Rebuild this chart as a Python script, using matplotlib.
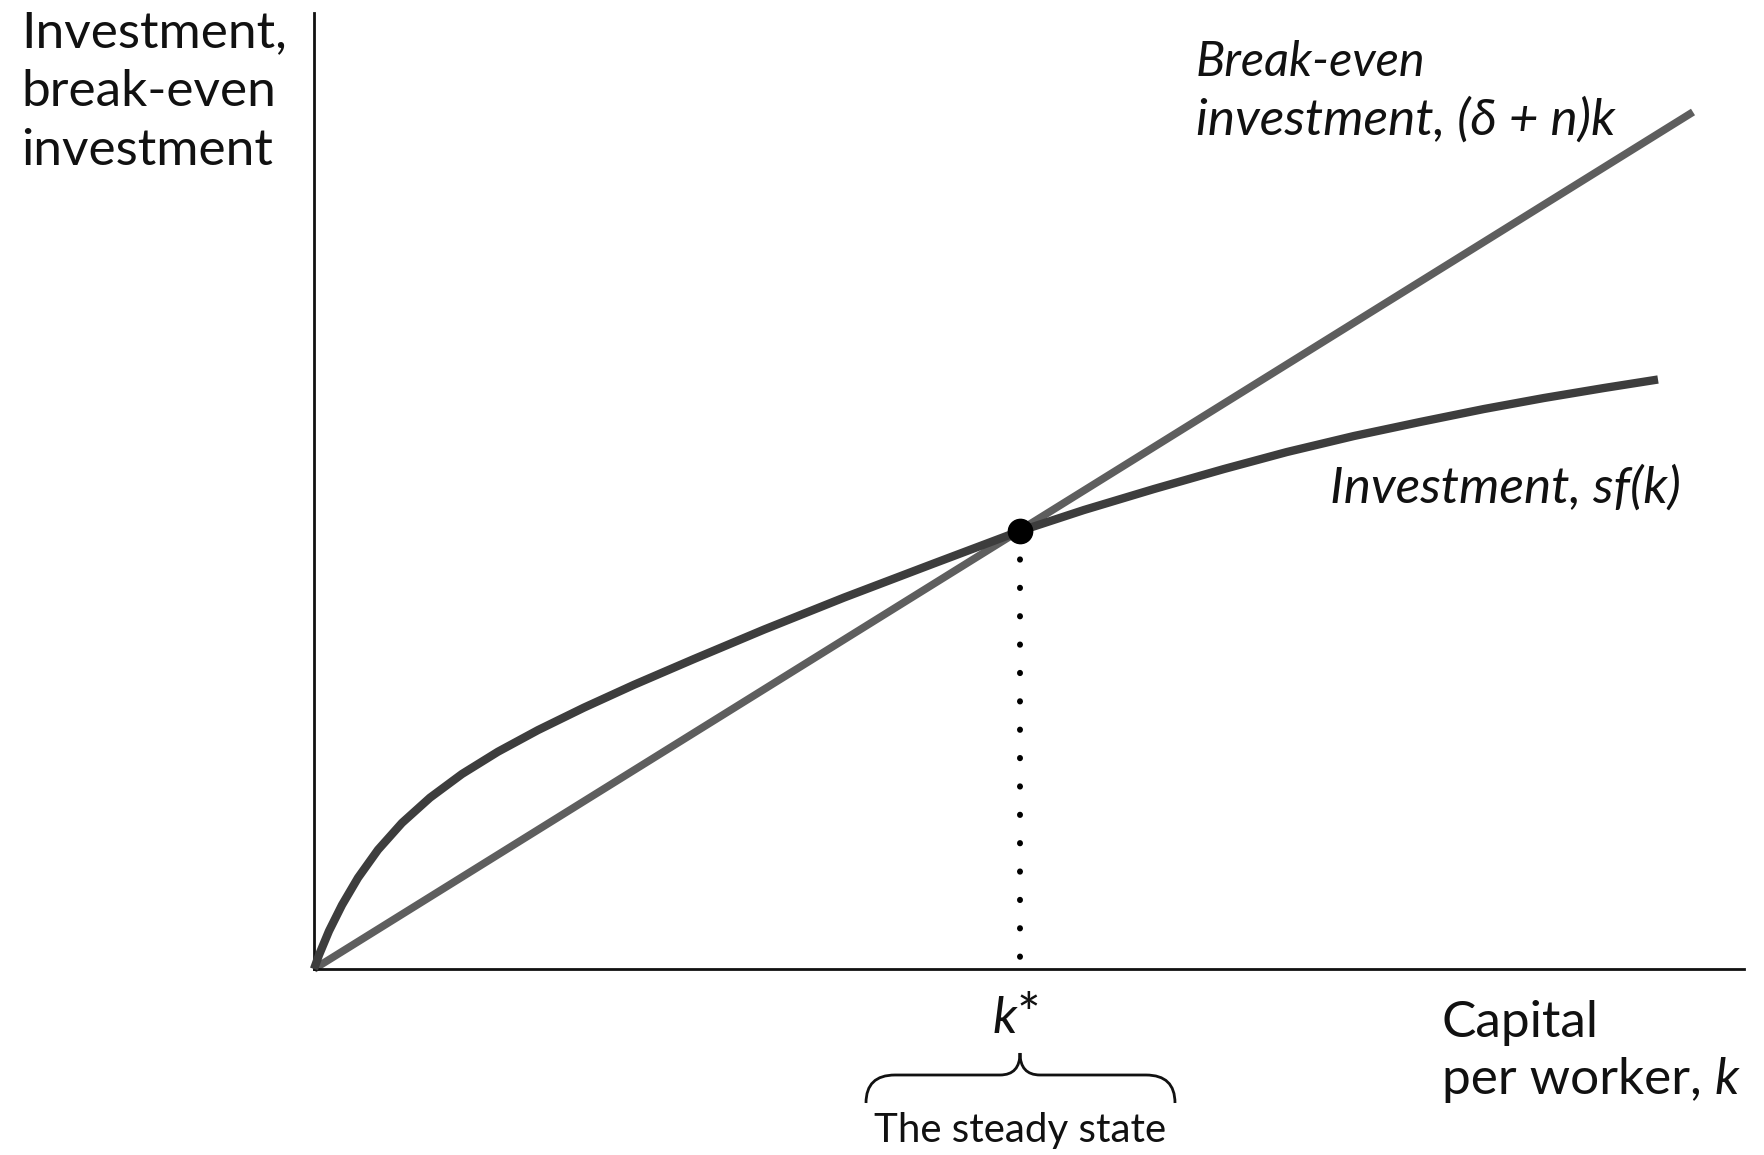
import matplotlib
matplotlib.use("Agg")
import matplotlib.pyplot as plt
from matplotlib.path import Path
from matplotlib.patches import PathPatch

# Solow steady state diagram (1 unit = 100 px)
k_invest = [0, 0.05, 0.15, 0.28, 0.44, 0.64, 0.88, 1.16, 1.48, 1.84, 2.24,
            2.70, 3.20, 3.80, 4.50, 5.30, 6.20, 7.06, 7.70, 8.40, 9.10, 9.73,
            10.40, 11.06, 11.70, 12.30, 12.90, 13.44]
sf_k = [0, 0.14, 0.38, 0.64, 0.912, 1.192, 1.461, 1.713, 1.950, 2.173, 2.389,
        2.614, 2.842, 3.10, 3.394, 3.714, 4.056, 4.38, 4.59, 4.80, 5.00, 5.17,
        5.33, 5.47, 5.60, 5.71, 5.81, 5.895]
k_breakeven = [0, 13.79]
breakeven = [0, 8.57]
k_star = 7.06
inv_star = 4.38

W, H = 1764, 1155
FONT = ["Lato", "DejaVu Sans"]
plt.rcParams["font.family"] = FONT
INK = "#111111"


def fx(x):
    return x / W


def fy(y):
    return 1 - y / H


fig = plt.figure(figsize=(W / 100, H / 100), dpi=100)
ax = fig.add_axes([fx(314), fy(969), (1744 - 314) / W, (969 - 13) / H])
ax.set_xlim(0, 14.30)
ax.set_ylim(0, 9.56)
ax.set_xticks([])
ax.set_yticks([])
for s in ["top", "right"]:
    ax.spines[s].set_visible(False)
for s in ["left", "bottom"]:
    ax.spines[s].set_linewidth(2.0)
    ax.spines[s].set_color(INK)

ax.plot(k_breakeven, breakeven, color="#5e5e5e", lw=5.5,
        solid_capstyle="butt", zorder=2, clip_on=False)
ax.plot(k_invest, sf_k, color="#3d3d3d", lw=6.0, solid_capstyle="butt",
        solid_joinstyle="round", zorder=3, clip_on=False)

# dotted drop line and the steady state point
ax.plot([k_star, k_star], [inv_star, 0.1], color="black", lw=4.3,
        linestyle=(0, (0.05, 4.7)), dash_capstyle="round", zorder=1)
ax.plot([k_star], [inv_star], "o", color="black", ms=17.5, zorder=4)

# y axis label, one line at a time
for txt, base in [("Investment,", 47), ("break-even", 106), ("investment", 165)]:
    fig.text(fx(21), fy(base), txt, fontsize=37, va="baseline", ha="left",
             color=INK)

fig.text(fx(1196), fy(76), "Break-even", fontsize=35, style="italic",
         va="baseline", ha="left", color=INK)
fig.text(fx(1196), fy(135), "investment, (δ + n)k", fontsize=37, style="italic",
         va="baseline", ha="left", color=INK)
fig.text(fx(1330), fy(503), "Investment, sf(k)", fontsize=37, style="italic",
         va="baseline", ha="left", color=INK)
k_lbl = fig.text(fx(1017), fy(1033), "k", fontsize=37, style="italic",
                 va="baseline", ha="right", color=INK)
fig.text(fx(1017), fy(1033), "*", fontsize=40, va="baseline", ha="left",
         color=INK)

# x axis label with an italic k at the end
fig.text(fx(1442), fy(1037), "Capital", fontsize=37,
         va="baseline", ha="left", color=INK)
t = fig.text(fx(1442), fy(1094), "per worker, ", fontsize=37,
             va="baseline", ha="left", color=INK)
fig.canvas.draw()
bb = t.get_window_extent()
fig.text(bb.x1 / W, fy(1094), "k", fontsize=37, style="italic",
         va="baseline", ha="left", color=INK)
fig.text(fx(1020), fy(1142), "The steady state", fontsize=29,
         va="baseline", ha="center", color=INK)

# curly brace under k*
pts = [(866, 1103), (866, 1075), (895, 1075), (1000, 1075), (1020, 1075),
       (1020, 1053), (1020, 1075), (1040, 1075), (1146, 1075), (1175, 1075),
       (1175, 1103)]
codes = [Path.MOVETO, Path.CURVE3, Path.CURVE3, Path.LINETO, Path.CURVE3,
         Path.CURVE3, Path.CURVE3, Path.CURVE3, Path.LINETO, Path.CURVE3,
         Path.CURVE3]
brace = Path([(fx(x), fy(y)) for x, y in pts], codes)
fig.patches.append(PathPatch(brace, transform=fig.transFigure, fill=False,
                             lw=2.0, edgecolor=INK))

fig.savefig("out.png", dpi=100)
